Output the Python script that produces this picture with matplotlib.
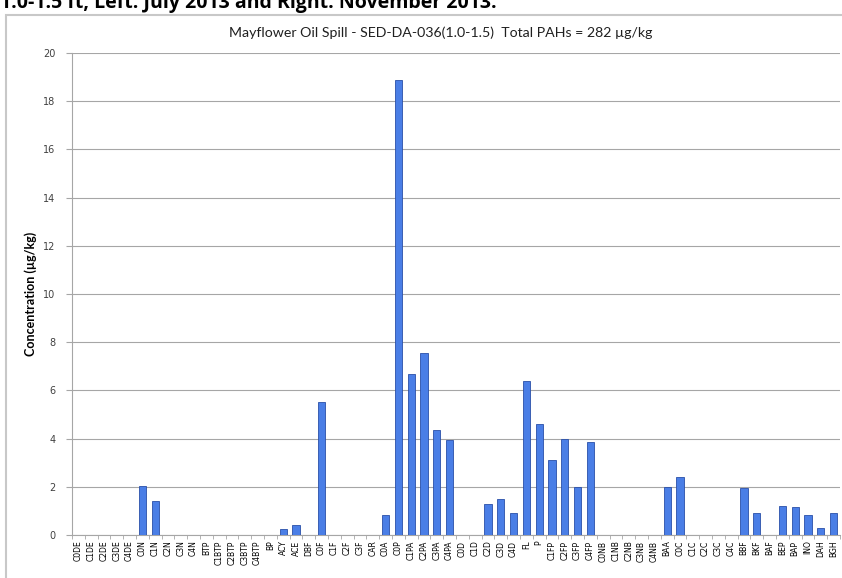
import matplotlib.pyplot as plt
import numpy as np
from matplotlib.patches import Rectangle

labels = ['C0DE', 'C1DE', 'C2DE', 'C3DE', 'C4DE', 'C0N', 'C1N', 'C2N', 'C3N', 'C4N',
          'BTP', 'C1BTP', 'C2BTP', 'C3BTP', 'C4BTP', 'BP', 'ACY', 'ACE', 'DBF', 'C0F',
          'C1F', 'C2F', 'C3F', 'CAR', 'C0A', 'C0P', 'C1PA', 'C2PA', 'C3PA', 'C4PA',
          'C0D', 'C1D', 'C2D', 'C3D', 'C4D', 'FL', 'P', 'C1FP', 'C2FP', 'C3FP',
          'C4FP', 'C0NB', 'C1NB', 'C2NB', 'C3NB', 'C4NB', 'BAA', 'C0C', 'C1C', 'C2C',
          'C3C', 'C4C', 'BBF', 'BKF', 'BAF', 'BEP', 'BAP', 'INO', 'DAH', 'BGH']
values = [0, 0, 0, 0, 0, 2.05, 1.4, 0, 0, 0,
          0, 0, 0, 0, 0, 0, 0.25, 0.4, 0, 5.5,
          0, 0, 0, 0, 0.85, 18.9, 6.7, 7.55, 4.35, 3.95,
          0, 0, 1.3, 1.5, 0.9, 6.4, 4.6, 3.1, 4.0, 2.0,
          3.85, 0, 0, 0, 0, 0, 2.0, 2.4, 0, 0,
          0, 0, 1.95, 0.9, 0, 1.2, 1.15, 0.85, 0.3, 0.9]

W, H = 842, 578
fig = plt.figure(figsize=(W / 100, H / 100), dpi=100)

# caption from the page above, cut by the top edge as in the reference
fig.text(0.0, 1 - 3 / H, '1.0-1.5 ft, Left: July 2013 and Right: November 2013.',
         fontsize=14, fontweight='bold', family='Open Sans', va='center', ha='left')

# chart frame
fig.patches.append(Rectangle((6 / W, -0.01), 1.0, 1 - 15 / H + 0.01, transform=fig.transFigure,
                             fill=False, edgecolor='#c8c8c8', linewidth=1.5))

ax = fig.add_axes([72 / W, 43 / H, 768 / W, 482 / H])
x = np.arange(len(labels))
ax.bar(x, values, width=0.55, color='#4a7ee6', edgecolor='#2a4fa8', linewidth=0.6, zorder=3)

ax.set_xlim(-0.5, len(labels) - 0.5)
ax.set_ylim(0, 20)
ax.set_yticks(np.arange(0, 21, 2))
ax.yaxis.grid(True, color='#a6a6a6', linewidth=0.8, zorder=0)
ax.set_xticks(x)
ax.set_xticklabels(labels, rotation=90, fontsize=5.5, family='DejaVu Sans')
ax.set_xticks(np.arange(-0.5, len(labels), 1), minor=True)
ax.tick_params(axis='x', which='major', length=0, pad=4)
ax.tick_params(axis='x', which='minor', length=3, color='#a6a6a6')
ax.tick_params(axis='y', length=4, color='#a6a6a6', labelsize=7, labelcolor='#404040', pad=8)

for s in ['top', 'right']:
    ax.spines[s].set_visible(False)
for s in ['left', 'bottom']:
    ax.spines[s].set_color('#a6a6a6')

ax.set_ylabel('Concentration (µg/kg)', fontsize=9, fontweight='bold', family='Lato')
ax.yaxis.set_label_coords(-0.046, 0.5)
fig.text(441 / W, 1 - 33 / H, 'Mayflower Oil Spill - SED-DA-036(1.0-1.5)  Total PAHs = 282 µg/kg',
         fontsize=10.2, family='Lato', ha='center', va='center', color='#202020')

fig.savefig('out.png', dpi=100)
